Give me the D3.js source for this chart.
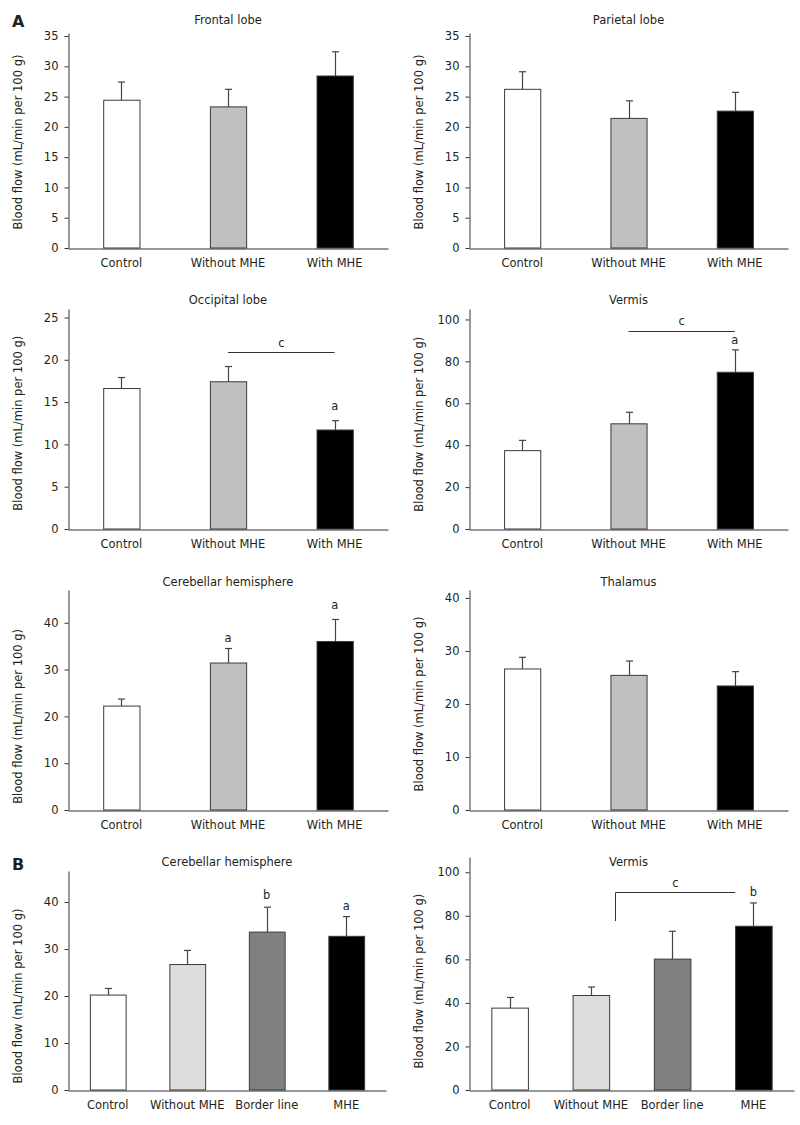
<!DOCTYPE html>
<html>
<head>
<meta charset="utf-8">
<script src="https://cdn.jsdelivr.net/npm/d3@7"></script>
<style>
  html, body { margin: 0; padding: 0; background: #fff; }
  svg text { font-family: "DejaVu Sans", Verdana, sans-serif; fill: #231f20; }
</style>
</head>
<body>
<svg id="chart" width="800" height="1125"></svg>
<script>
// ---------- DATA ----------
const groupsA = ["Control", "Without MHE", "With MHE"];
const groupsB = ["Control", "Without MHE", "Border line", "MHE"];
const colorsA = ["#ffffff", "#c0c0c0", "#000000"];
const colorsB = ["#ffffff", "#dcdcdc", "#808080", "#000000"];

const titles = ["Frontal lobe", "Parietal lobe", "Occipital lobe", "Vermis",
                "Cerebellar hemisphere", "Thalamus", "Cerebellar hemisphere", "Vermis"];
const panelSet = ["A", "A", "A", "A", "A", "A", "B", "B"];

const means = [
  [24.4, 23.3, 28.4],
  [26.2, 21.4, 22.6],
  [16.6, 17.4, 11.7],
  [37.4, 50.2, 74.8],
  [22.2, 31.4, 36.0],
  [26.6, 25.4, 23.4],
  [20.2, 26.7, 33.6, 32.7],
  [37.6, 43.4, 60.1, 75.2]
];
const errors = [
  [3.0, 2.9, 4.0],
  [2.9, 2.9, 3.1],
  [1.3, 1.8, 1.1],
  [4.9, 5.5, 10.7],
  [1.5, 3.1, 4.7],
  [2.2, 2.7, 2.7],
  [1.4, 3.0, 5.3, 4.2],
  [4.9, 3.9, 12.8, 10.7]
];
const yMax = [35.5, 35.5, 26, 105, 47, 41.5, 46.6, 107];
const tickStep = [5, 5, 5, 20, 10, 10, 10, 20];
const tickMax = [35, 35, 25, 100, 40, 40, 40, 100];
const yLabel = "Blood flow (mL/min per 100 g)";

// significance letters: panel index, group index, letter, value position
const letters = [
  {p: 2, g: 2, t: "a", v: 14.5},
  {p: 3, g: 2, t: "a", v: 90.4},
  {p: 4, g: 1, t: "a", v: 36.8},
  {p: 4, g: 2, t: "a", v: 43.9},
  {p: 6, g: 2, t: "b", v: 41.4},
  {p: 6, g: 3, t: "a", v: 39.1},
  {p: 7, g: 3, t: "b", v: 90.8}
];
// comparison lines
const brackets = [
  {p: 2, from: 1, to: 2, v: 20.9, t: "c", lv: 22.0, kind: "line"},
  {p: 3, from: 1, to: 2, v: 94.6, t: "c", lv: 99.2, kind: "line"},
  {p: 7, from: 1, to: 3, v: 90.8, drop: 77.6, t: "c", lv: 95.1, kind: "bracket"}
];

// ---------- LAYOUT ----------
const panelLeft   = [68, 469, 68, 469, 68, 469, 68, 469];
const panelRight  = [388, 788, 388, 788, 388, 788, 386, 794];
const panelBottom = [248, 248, 529, 529, 810, 810, 1090, 1090];
const panelTop    = [33, 33, 309, 309, 590, 590, 871, 857];
const titleY      = [24, 24, 304, 304, 586, 586, 866, 866];

const svg = d3.select("#chart");
const ink = "#333333";

titles.forEach((title, i) => {
  const isA = panelSet[i] === "A";
  const groups = isA ? groupsA : groupsB;
  const colors = isA ? colorsA : colorsB;
  const x = d3.scaleBand().domain(groups)
    .range([panelLeft[i], panelRight[i]])
    .paddingInner(isA ? 0.66 : 0.55)
    .paddingOuter(isA ? 0.33 : 0.275);
  const y = d3.scaleLinear().domain([0, yMax[i]]).range([panelBottom[i], panelTop[i]]);
  const color = d3.scaleOrdinal().domain(groups).range(colors);
  const g = svg.append("g");

  const rows = groups.map((name, k) => ({name, mean: means[i][k], err: errors[i][k]}));

  // bars
  g.selectAll("rect.bar").data(rows).join("rect")
    .attr("class", "bar")
    .attr("x", d => x(d.name) + 0.5)
    .attr("y", d => y(d.mean))
    .attr("width", x.bandwidth())
    .attr("height", d => y(0) - y(d.mean))
    .attr("fill", d => color(d.name))
    .attr("stroke", "#3a3a3a")
    .attr("stroke-width", 1);

  // error bars (upper only)
  const cx = d => Math.round(x(d.name) + x.bandwidth() / 2) + 0.5;
  g.selectAll("line.err").data(rows).join("line")
    .attr("class", "err")
    .attr("x1", cx).attr("x2", cx)
    .attr("y1", d => y(d.mean)).attr("y2", d => y(d.mean + d.err))
    .attr("stroke", "#444").attr("stroke-width", 1.2);
  g.selectAll("line.cap").data(rows).join("line")
    .attr("class", "cap")
    .attr("x1", d => cx(d) - 3.5).attr("x2", d => cx(d) + 3.5)
    .attr("y1", d => y(d.mean + d.err)).attr("y2", d => y(d.mean + d.err))
    .attr("stroke", "#444").attr("stroke-width", 1.2);

  // y axis
  const ticks = d3.range(0, tickMax[i] + 0.001, tickStep[i]);
  const yAxis = g.append("g")
    .attr("transform", `translate(${panelLeft[i] + 0.5},0)`)
    .call(d3.axisLeft(y).tickValues(ticks).tickSize(4).tickPadding(6).tickSizeOuter(0));
  yAxis.select(".domain").attr("stroke", ink);
  yAxis.selectAll(".tick line").attr("stroke", ink);
  yAxis.selectAll(".tick text")
    .style("font-family", '"DejaVu Sans", Verdana, sans-serif')
    .style("font-size", "11.5px").attr("fill", "#231f20");

  // x axis
  const xAxis = g.append("g")
    .attr("transform", `translate(0,${panelBottom[i] + 0.5})`)
    .call(d3.axisBottom(x).tickSize(0).tickPadding(10).tickSizeOuter(0));
  xAxis.select(".domain").attr("stroke", ink);
  xAxis.selectAll(".tick text")
    .style("font-family", '"DejaVu Sans", Verdana, sans-serif')
    .style("font-size", "11.5px").attr("fill", "#231f20");

  // title
  g.append("text")
    .attr("x", (panelLeft[i] + panelRight[i]) / 2 - (i === 7 ? 3 : 0))
    .attr("y", titleY[i])
    .attr("text-anchor", "middle")
    .style("font-size", "11.5px")
    .text(title);

  // y label
  const midY = (y(0) + y(tickMax[i])) / 2;
  g.append("text")
    .attr("transform", `translate(${panelLeft[i] - 46},${midY}) rotate(-90)`)
    .attr("text-anchor", "middle")
    .style("font-size", "11.5px")
    .text(yLabel);

  // letters
  letters.filter(l => l.p === i).forEach(l => {
    g.append("text")
      .attr("x", x(groups[l.g]) + x.bandwidth() / 2)
      .attr("y", y(l.v))
      .attr("dy", "0.35em")
      .attr("text-anchor", "middle")
      .style("font-size", "11.5px")
      .text(l.t);
  });

  // brackets
  brackets.filter(b => b.p === i).forEach(b => {
    let x1, x2;
    if (b.kind === "line") {
      x1 = x(groups[b.from]) + x.bandwidth() / 2;
      x2 = x(groups[b.to]) + x.bandwidth() / 2;
      g.append("line")
        .attr("x1", x1).attr("x2", x2)
        .attr("y1", Math.round(y(b.v)) + 0.5).attr("y2", Math.round(y(b.v)) + 0.5)
        .attr("stroke", ink).attr("stroke-width", 1);
    } else {
      x1 = Math.round(x(groups[b.from]) + x.bandwidth() + 6) + 0.5;
      x2 = x(groups[b.to]);
      const yy = Math.round(y(b.v)) + 0.5;
      g.append("path")
        .attr("d", `M${x1},${y(b.drop)}L${x1},${yy}L${x2},${yy}`)
        .attr("fill", "none").attr("stroke", ink).attr("stroke-width", 1);
    }
    g.append("text")
      .attr("x", (x1 + x2) / 2)
      .attr("y", y(b.lv))
      .attr("dy", "0.35em")
      .attr("text-anchor", "middle")
      .style("font-size", "11.5px")
      .text(b.t);
  });
});

// panel letters
svg.append("text").attr("x", 12).attr("y", 27)
  .style("font-size", "16px").style("font-weight", "bold").attr("fill", "#000").text("A");
svg.append("text").attr("x", 12).attr("y", 870)
  .style("font-size", "16px").style("font-weight", "bold").attr("fill", "#000").text("B");
</script>
</body>
</html>
